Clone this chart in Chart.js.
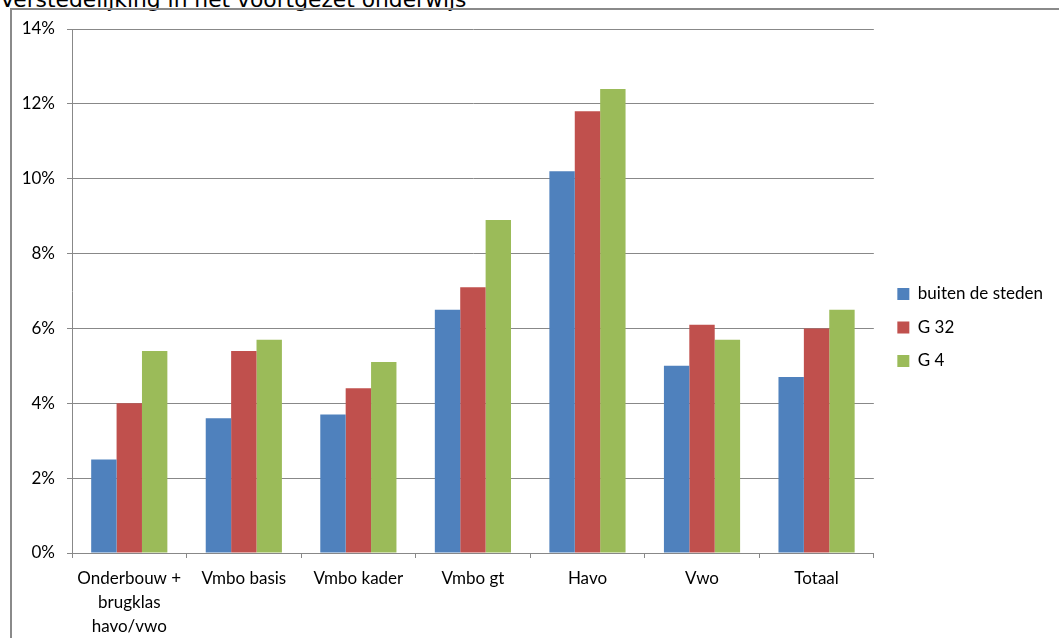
<!DOCTYPE html>
<html>
<head>
<meta charset="utf-8">
<script src="https://cdn.jsdelivr.net/npm/chart.js@4/dist/chart.umd.min.js"></script>
<style>
  html, body { margin: 0; padding: 0; background: #ffffff; width: 1059px; height: 638px; overflow: hidden; position: relative; }
  #title { position: absolute; left: 0; top: -9px; font-family: "DejaVu Sans", sans-serif; font-size: 21.8px; line-height: 18px; color: #000; white-space: nowrap; }
  #frame { position: absolute; left: 10px; top: 8px; width: 1100px; height: 700px; border-left: 2px solid #8a8a8a; border-top: 2px solid #8a8a8a; }
  #wrap { position: absolute; left: 0; top: 0; width: 1053px; height: 638px; }
</style>
</head>
<body>
<div id="title">Verstedelijking in het voortgezet onderwijs</div>
<div id="frame"></div>
<div id="wrap"><canvas id="c"></canvas></div>
<script>
const categories = [["Onderbouw +", "brugklas", "havo/vwo"], "Vmbo basis", "Vmbo kader", "Vmbo gt", "Havo", "Vwo", "Totaal"];
const seriesNames = ["buiten de steden", "G 32", "G 4"];
const buitenDeSteden = [2.5, 3.6, 3.7, 6.5, 10.2, 5.0, 4.7];
const g32 = [4.0, 5.4, 4.4, 7.1, 11.8, 6.1, 6.0];
const g4 = [5.4, 5.7, 5.1, 8.9, 12.4, 5.7, 6.5];
const yTicks = [0, 2, 4, 6, 8, 10, 12, 14];

const colors = ["#4F81BD", "#C0504D", "#9BBB59"];
const gridColor = "#888888";
const fontFamily = "Lato, 'Liberation Sans', sans-serif";

new Chart(document.getElementById("c"), {
  type: "bar",
  data: {
    labels: categories,
    datasets: [
      { label: seriesNames[0], data: buitenDeSteden, backgroundColor: colors[0] },
      { label: seriesNames[1], data: g32, backgroundColor: colors[1] },
      { label: seriesNames[2], data: g4, backgroundColor: colors[2] }
    ]
  },
  options: {
    responsive: true,
    maintainAspectRatio: false,
    animation: false,
    devicePixelRatio: 1,
    layout: { padding: { top: 17, bottom: 0, left: 0, right: 0 } },
    datasets: { bar: { categoryPercentage: 0.665, barPercentage: 1.0, borderWidth: 0 } },
    plugins: {
      title: { display: false },
      tooltip: { enabled: false },
      legend: {
        position: "right",
        align: "center",
        labels: {
          boxWidth: 12,
          boxHeight: 12,
          padding: 16.5,
          color: "#000",
          font: { family: fontFamily, size: 17 }
        }
      }
    },
    scales: {
      x: {
        grid: { display: true, drawOnChartArea: false, drawTicks: true, tickLength: 5, color: gridColor, offset: true },
        border: { display: true, color: gridColor, width: 1 },
        ticks: { color: "#000", font: { family: fontFamily, size: 17, lineHeight: 1.42 }, padding: 8, maxRotation: 0, autoSkip: false },
        afterFit: (s) => { s.height = 85; }
      },
      y: {
        min: 0,
        max: 14,
        afterBuildTicks: (s) => { s.ticks = yTicks.map(v => ({ value: v })); },
        grid: { color: gridColor, tickLength: 5, drawTicks: true },
        border: { display: true, color: gridColor, width: 1 },
        ticks: { color: "#000", font: { family: fontFamily, size: 17 }, padding: 12, callback: (v) => v + "%" },
        afterFit: (s) => { s.width = 72; }
      },
      padTop: {
        type: "linear",
        position: "top",
        display: true,
        grid: { display: false, drawOnChartArea: false },
        border: { display: false },
        ticks: { display: false },
        afterFit: (s) => { s.height = 12; }
      },
      pad: {
        type: "linear",
        position: "right",
        display: true,
        grid: { display: false, drawOnChartArea: false },
        border: { display: false },
        ticks: { display: false },
        afterFit: (s) => { s.width = 7; }
      }
    }
  }
});
</script>
</body>
</html>
